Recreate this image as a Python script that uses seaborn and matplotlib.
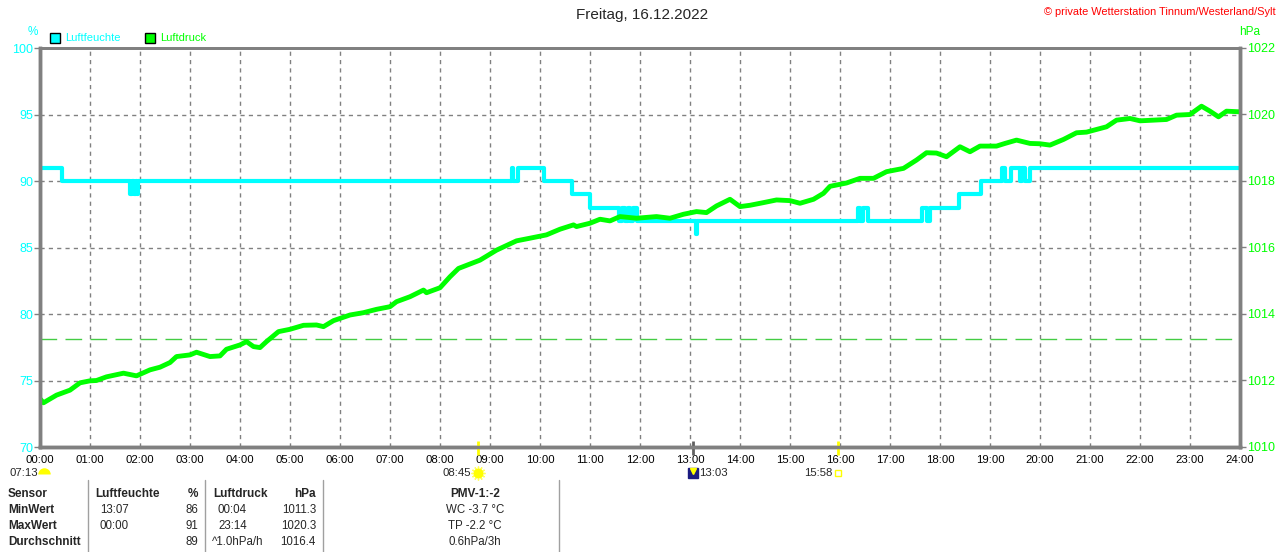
import matplotlib
matplotlib.use('Agg')
import matplotlib.pyplot as plt
import matplotlib.transforms as mtransforms
from matplotlib.patches import Rectangle
from matplotlib.lines import Line2D
import pandas as pd
import seaborn as sns

# Luftfeuchte (%): Zeitpunkt (Stunden) ab dem der Wert gilt
hum_t = [0.0, 0.44, 1.80, 1.84, 1.87, 1.92, 1.94, 1.96, 9.43, 9.46, 9.55, 10.07, 10.63, 10.99,
         11.58, 11.64, 11.70, 11.76, 11.80, 11.86, 11.93, 13.11, 13.14, 16.35, 16.40, 16.45, 16.55,
         17.65, 17.73, 17.80, 18.37, 18.83, 19.23, 19.29, 19.42, 19.60, 19.65, 19.70, 19.80, 24.0]
hum_v = [91, 90, 89, 90, 89, 90, 89, 90, 91, 90, 91, 90, 89, 88,
         87, 88, 87, 88, 87, 88, 87, 86, 87, 88, 87, 88, 87,
         88, 87, 88, 89, 90, 91, 90, 91, 90, 91, 90, 91, 91]

# Luftdruck (hPa)
pres_t = [0.0, 0.07, 0.33, 0.6, 0.8, 1.0, 1.13, 1.33, 1.67, 1.93, 2.2, 2.4, 2.6, 2.73, 3.0, 3.13,
          3.4, 3.6, 3.73, 4.0, 4.13, 4.27, 4.4, 4.53, 4.77, 5.0, 5.27, 5.53, 5.67, 5.87, 6.2, 6.47,
          6.73, 7.0, 7.13, 7.4, 7.67, 7.73, 8.0, 8.2, 8.37, 8.8, 9.13, 9.53, 9.8, 10.13, 10.4, 10.67,
          10.73, 11.0, 11.2, 11.4, 11.6, 11.93, 12.33, 12.6, 12.87, 13.13, 13.33, 13.53, 13.8, 14.0,
          14.2, 14.47, 14.73, 15.0, 15.2, 15.47, 15.67, 15.8, 16.13, 16.4, 16.67, 16.93, 17.27, 17.53,
          17.73, 17.93, 18.13, 18.4, 18.6, 18.8, 19.13, 19.3, 19.53, 19.8, 20.0, 20.2, 20.47, 20.73,
          20.93, 21.13, 21.33, 21.53, 21.8, 22.0, 22.27, 22.53, 22.73, 23.0, 23.23, 23.4, 23.57, 23.73,
          24.0]
pres_v = [1011.45, 1011.33, 1011.56, 1011.71, 1011.93, 1011.99, 1012.0, 1012.11, 1012.22, 1012.14,
          1012.32, 1012.40, 1012.54, 1012.72, 1012.77, 1012.85, 1012.72, 1012.74, 1012.94, 1013.07,
          1013.17, 1013.02, 1012.99, 1013.17, 1013.47, 1013.54, 1013.66, 1013.67, 1013.62, 1013.80,
          1013.97, 1014.04, 1014.14, 1014.22, 1014.37, 1014.52, 1014.72, 1014.64, 1014.79, 1015.12,
          1015.37, 1015.62, 1015.92, 1016.20, 1016.28, 1016.38, 1016.55, 1016.68, 1016.63, 1016.73,
          1016.85, 1016.80, 1016.93, 1016.88, 1016.93, 1016.88, 1017.0, 1017.08, 1017.05, 1017.25,
          1017.45, 1017.23, 1017.27, 1017.35, 1017.43, 1017.41, 1017.33, 1017.45, 1017.63, 1017.84,
          1017.94, 1018.08, 1018.08, 1018.28, 1018.38, 1018.63, 1018.85, 1018.84, 1018.73, 1019.03,
          1018.88, 1019.05, 1019.05, 1019.13, 1019.23, 1019.13, 1019.12, 1019.08, 1019.25, 1019.45,
          1019.47, 1019.55, 1019.63, 1019.83, 1019.88, 1019.81, 1019.83, 1019.85, 1019.98, 1020.0,
          1020.25, 1020.1, 1019.93, 1020.1, 1020.08]

ref_pressure = 1013.25

hour_labels = ['%02d:00' % h for h in range(25)]
hum_ticks = [70, 75, 80, 85, 90, 95, 100]
pres_ticks = [1010, 1012, 1014, 1016, 1018, 1020, 1022]

# Sonnenereignisse (Stunden)
sun_rise, sun_noon, sun_set = 8.75, 13.05, 15.967
dawn_label, rise_label, noon_label, set_label = '07:13', '08:45', '13:03', '15:58'

title = 'Freitag, 16.12.2022'
copyright_text = '\u00a9 private Wetterstation Tinnum/Westerland/Sylt'

# Tabelle
row_names = ['Sensor', 'MinWert', 'MaxWert', 'Durchschnitt']
hum_times = ['13:07', '00:00', '']
hum_vals = ['86', '91', '89']
pres_times = ['00:04', '23:14', '^1.0hPa/h']
pres_vals = ['1011.3', '1020.3', '1016.4']
pmv_lines = ['PMV-1:-2', 'WC -3.7 \u00b0C', 'TP -2.2 \u00b0C', '0.6hPa/3h']

CYAN = '#00ffff'
GREEN = '#00ff00'
GRAY = '#808080'

sns.set_style('white')
plt.rcParams['font.family'] = ['Liberation Sans', 'DejaVu Sans']

W, H = 1280, 552
fig = plt.figure(figsize=(W / 100, H / 100), dpi=100)
ax = fig.add_axes([40 / W, 1 - 447 / H, 1200 / W, 399 / H])
ax2 = ax.twinx()


def px(x, y):
    return x / W, 1 - y / H


hum_df = pd.DataFrame({'Zeit': hum_t, 'Luftfeuchte': hum_v})
pres_df = pd.DataFrame({'Zeit': pres_t, 'Luftdruck': pres_v})

# grid
for h in range(1, 24):
    ax.axvline(h, color=GRAY, lw=1, ls=(0, (3, 3)), zorder=0)
for v in hum_ticks[1:-1]:
    ax.axhline(v, color=GRAY, lw=1, ls=(0, (3, 3)), zorder=0)

sns.lineplot(data=hum_df, x='Zeit', y='Luftfeuchte', ax=ax, color=CYAN, lw=3,
             drawstyle='steps-post', estimator=None, legend=False)
ax2.axhline(ref_pressure, color='#44cc44', lw=1, ls=(0, (12, 6)), zorder=1)
sns.lineplot(data=pres_df, x='Zeit', y='Luftdruck', ax=ax2, color=GREEN, lw=3.5,
             estimator=None, legend=False)

ax.set_xlim(0, 24)
ax.set_ylim(70, 100)
ax2.set_ylim(1010, 1022)
ax.set_xticks(range(25))
ax.set_xticklabels(hour_labels)
ax.set_yticks(hum_ticks)
ax2.set_yticks(pres_ticks)
ax.set_xlabel('')
ax.set_ylabel('')
ax2.set_ylabel('')

for a in (ax, ax2):
    for s in a.spines.values():
        s.set_color(GRAY)
        s.set_linewidth(2.5)
    a.spines['top'].set_linewidth(2)
ax.tick_params(axis='x', length=0, pad=6, labelsize=8.2, labelcolor='black')
ax.tick_params(axis='y', length=4, width=1, color=GRAY, pad=1, labelsize=9, labelcolor=CYAN)
ax2.tick_params(axis='y', length=4, width=1, color=GRAY, pad=1, labelsize=9, labelcolor=GREEN)

# Sonnen-Markierungen an der Zeitachse
trans = mtransforms.blended_transform_factory(ax.transData, ax.transAxes)
ax.vlines([sun_rise, sun_set], -0.02, 0.015, transform=trans, color='#ffff00', lw=2, clip_on=False, zorder=5)
ax.vlines([sun_noon], -0.02, 0.015, transform=trans, color='#606060', lw=2, clip_on=False, zorder=5)

icon_y = -0.066
ax.plot([sun_rise], [icon_y], transform=trans, marker=(12, 2, 0), ms=10, mec='#ffff60', mew=1, clip_on=False)
ax.plot([sun_rise], [icon_y], transform=trans, marker='o', ms=6, mfc='#ffff00', mec='#ffff00', clip_on=False)
ax.text(sun_rise - 0.13, icon_y, rise_label, transform=trans, ha='right', va='center', fontsize=8.2)
ax.plot([sun_noon], [icon_y], transform=trans, marker='s', ms=7, mfc='#1a1a80', mec='#1a1a80', clip_on=False)
ax.plot([sun_noon], [icon_y + 0.005], transform=trans, marker='v', ms=4, mfc='#ffff00', mec='#ffff00', clip_on=False)
ax.text(sun_noon + 0.14, icon_y, noon_label, transform=trans, ha='left', va='center', fontsize=8.2)
ax.plot([sun_set], [icon_y], transform=trans, marker='s', ms=5, mfc='none', mec='#ffff00', mew=1, clip_on=False)
ax.text(sun_set - 0.12, icon_y, set_label, transform=trans, ha='right', va='center', fontsize=8.2)

fig.text(*px(38, 473), dawn_label, ha='right', va='center', fontsize=8.2)
fig.lines.append(Line2D([px(44, 0)[0]], [px(0, 474)[1]], transform=fig.transFigure, marker='o',
                        ms=9, fillstyle='top', mfc='#ffff00', mfcalt='none', mec='none'))

# Kopf
fig.text(*px(642, 15), title, ha='center', va='center', fontsize=11)
fig.text(*px(1276, 12), copyright_text, ha='right', va='center', fontsize=7.9, color='#ff0000')
fig.text(*px(33, 32), '%', ha='center', va='center', fontsize=8.5, color=CYAN)
fig.text(*px(1250, 32), 'hPa', ha='center', va='center', fontsize=8.5, color=GREEN)

for x0, col, lab in [(50, CYAN, 'Luftfeuchte'), (145, GREEN, 'Luftdruck')]:
    fig.patches.append(Rectangle(px(x0, 43), 10 / W, 10 / H, transform=fig.transFigure,
                                 facecolor=col, edgecolor='black', lw=1))
    fig.text(*px(x0 + 15, 38), lab, ha='left', va='center', fontsize=8, color=col)

# Tabelle
for xs in (88, 205, 323, 559):
    fig.lines.append(Line2D([xs / W, xs / W], [px(0, 480)[1], 0], transform=fig.transFigure,
                            color='#a0a0a0', lw=1))
rows_y = [494, 510, 526, 542]
for name, y in zip(row_names, rows_y):
    fig.text(*px(8, y), name, ha='left', va='center', fontsize=8.5, fontweight='bold')
fig.text(*px(95, rows_y[0]), 'Luftfeuchte', ha='left', va='center', fontsize=8.5, fontweight='bold')
fig.text(*px(198, rows_y[0]), '%', ha='right', va='center', fontsize=8.5, fontweight='bold')
fig.text(*px(213, rows_y[0]), 'Luftdruck', ha='left', va='center', fontsize=8.5, fontweight='bold')
fig.text(*px(316, rows_y[0]), 'hPa', ha='right', va='center', fontsize=8.5, fontweight='bold')
for i, y in enumerate(rows_y[1:]):
    fig.text(*px(100, y), hum_times[i], ha='left', va='center', fontsize=8.3)
    fig.text(*px(198, y), hum_vals[i], ha='right', va='center', fontsize=8.3)
    tx = 212 if pres_times[i].startswith('^') else 218
    fig.text(*px(tx, y), pres_times[i], ha='left', va='center', fontsize=8.3)
    fig.text(*px(316, y), pres_vals[i], ha='right', va='center', fontsize=8.3)
for i, (line, y) in enumerate(zip(pmv_lines, rows_y)):
    fig.text(*px(475, y), line, ha='center', va='center', fontsize=8.5 if i == 0 else 8.3,
             fontweight='bold' if i == 0 else 'normal')

fig.savefig('out.png', dpi=100)
